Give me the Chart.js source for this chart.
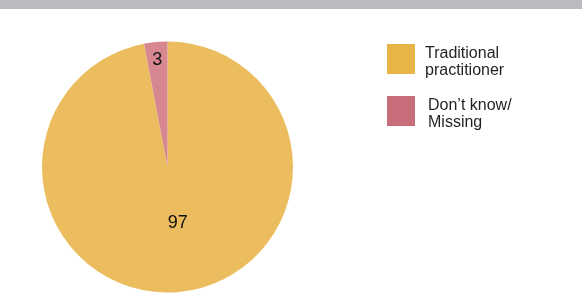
<!DOCTYPE html>
<html>
<head>
<meta charset="utf-8">
<script src="https://cdn.jsdelivr.net/npm/chart.js@4.4.1/dist/chart.umd.min.js"></script>
<style>
  html, body { margin: 0; padding: 0; background: #fff; }
  #wrap { position: relative; width: 582px; height: 305px; overflow: hidden; font-family: "Liberation Sans", Arial, sans-serif; }
  #topbar { position: absolute; left: 0; top: 0; width: 582px; height: 9px; background: #bbbcc0; }
  #c { position: absolute; left: 0; top: 0; }
  .lg-item { position: absolute; left: 387px; }
  .lg-box { position: absolute; left: 0; top: 0; width: 28px; height: 30px; }
  .lg-text { position: absolute; top: 0px; font-size: 16px; line-height: 17px; color: #231f20; white-space: nowrap; }
</style>
</head>
<body>
<div id="wrap">
  <canvas id="c" width="582" height="305"></canvas>
  <div id="topbar"></div>
  <div id="legend"></div>
</div>
<script>
const categories = [["Traditional", "practitioner"], ["Don\u2019t know/", "Missing"]];
const values = [97, 3];
const sliceColors = ["#ebbd5e", "#d6878f"];
const legendColors = ["#e8b447", "#c86e7b"];

const labelPlugin = {
  id: "sliceLabels",
  afterDatasetsDraw(chart) {
    const ctx = chart.ctx;
    const meta = chart.getDatasetMeta(0);
    const factors = [0.45, 0.86];
    const offsets = [[5, 0], [0, 0]];
    ctx.save();
    ctx.font = "18px 'Liberation Sans', Arial, sans-serif";
    ctx.fillStyle = "#111";
    ctx.textAlign = "center";
    ctx.textBaseline = "middle";
    meta.data.forEach((arc, i) => {
      const p = arc.getProps(["x", "y", "startAngle", "endAngle", "outerRadius"], true);
      const mid = (p.startAngle + p.endAngle) / 2;
      const r = p.outerRadius * factors[i];
      const x = p.x + Math.cos(mid) * r + offsets[i][0];
      const y = p.y + Math.sin(mid) * r + offsets[i][1];
      ctx.fillText(String(chart.data.datasets[0].data[i]), x, y);
    });
    ctx.restore();
  }
};

new Chart(document.getElementById("c"), {
  type: "pie",
  data: {
    labels: categories,
    datasets: [{
      data: values,
      backgroundColor: sliceColors,
      borderWidth: 0
    }]
  },
  options: {
    responsive: false,
    animation: false,
    layout: { padding: { top: 41, bottom: 12, left: 42, right: 289 } },
    plugins: {
      legend: { display: false },
      tooltip: { enabled: false }
    }
  },
  plugins: [labelPlugin]
});

const legendTops = [44, 96];
const legendTextLeft = [38, 41];
const legend = document.getElementById("legend");
categories.forEach((lines, i) => {
  const item = document.createElement("div");
  item.className = "lg-item";
  item.style.top = legendTops[i] + "px";
  const box = document.createElement("div");
  box.className = "lg-box";
  box.style.background = legendColors[i];
  const txt = document.createElement("div");
  txt.className = "lg-text";
  txt.style.left = legendTextLeft[i] + "px";
  txt.innerHTML = lines.join("<br>");
  item.appendChild(box);
  item.appendChild(txt);
  legend.appendChild(item);
});
</script>
</body>
</html>
